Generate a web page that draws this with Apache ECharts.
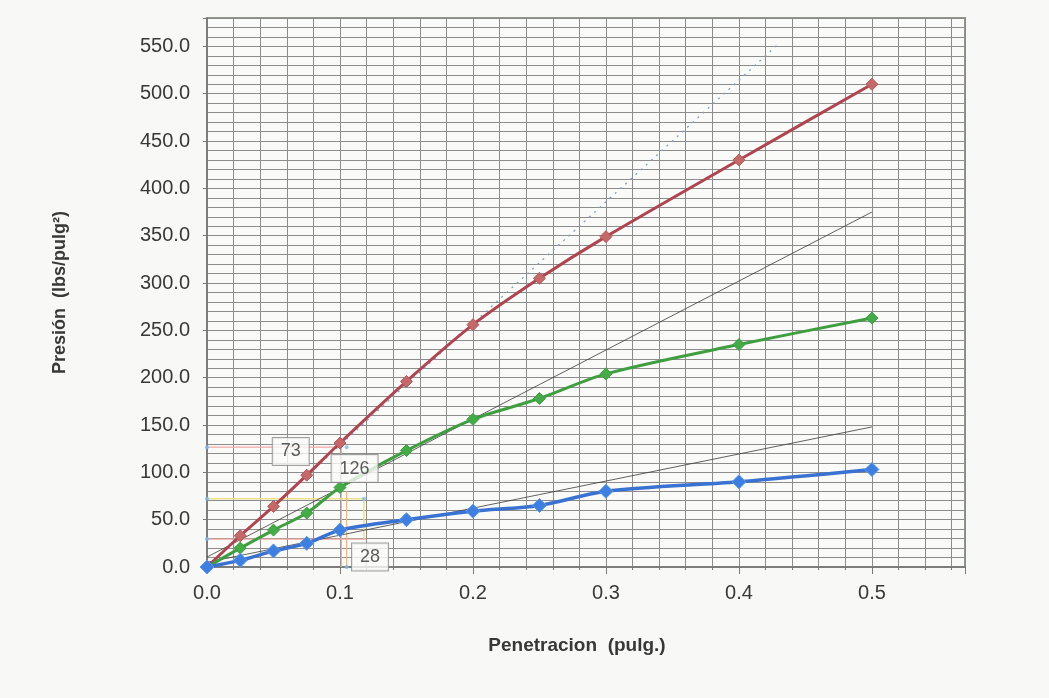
<!DOCTYPE html>
<html>
<head>
<meta charset="utf-8">
<script src="https://cdn.jsdelivr.net/npm/echarts@6/dist/echarts.min.js"></script>
<style>html,body{margin:0;padding:0;background:#f8f8f7;}#c{width:1049px;height:698px;}</style>
</head>
<body>
<div id="c"></div>
<script>
// Data
var penetration = [0, 0.025, 0.05, 0.075, 0.1, 0.15, 0.2, 0.25, 0.3, 0.4, 0.5];
var redValues   = [0, 33, 64, 97, 131, 196, 256, 305, 349, 430, 510];
var greenValues = [0, 20, 39, 57, 84, 123, 156, 178, 204, 235, 263];
var blueValues  = [0, 7, 17, 25, 39, 50, 59, 65, 80, 90, 103];
var redTangent   = [[0, 0], [0.43, 553]];
var greenTangent = [[0, 10.5], [0.5, 375]];
var blueTangent  = [[0, 5], [0.5, 148]];
var refLine126 = [[0, 126.6], [0.101, 126.6], [0.101, 0]];
var refLine73  = [[0, 72], [0.118, 72], [0.118, 29.5]];
var refLine28  = [[0, 29.5], [0.12, 29.5]];
var refVertical = [[0.105, 80], [0.105, 0]];
var refDots = [[0, 126.6], [0, 72], [0, 29.5], [0.105, 126.6], [0.118, 72], [0.105, 0]];
var boxLabels = [
  {text: '73', pos: [0.063, 122]},
  {text: '126', pos: [0.111, 104]},
  {text: '28', pos: [0.1226, 10.5]}
];
var xTickLabels = [0, 0.1, 0.2, 0.3, 0.4, 0.5];
var yTickLabels = [0, 50, 100, 150, 200, 250, 300, 350, 400, 450, 500, 550];

function pairs(ys) { return penetration.map(function (x, i) { return [x, ys[i]]; }); }
function near(v, list) { return list.some(function (t) { return Math.abs(t - v) < 1e-6; }); }

var chart = echarts.init(document.getElementById('c'));
var FONT = 'Liberation Sans, Arial, sans-serif';
var labelFont = {fontFamily: FONT, fontSize: 20, color: '#383838'};

chart.setOption({
  backgroundColor: '#f8f8f7',
  animation: false,
  grid: {left: 207, top: 18, right: 84, bottom: 131, show: true, backgroundColor: '#fafaf9', borderColor: '#8a988a', borderWidth: 2},
  xAxis: [{
    type: 'value', min: 0, max: 0.57, interval: 0.02,
    axisLine: {show: true, lineStyle: {color: '#777', width: 1.5}},
    axisTick: {show: true, length: 3, lineStyle: {color: '#777'}},
    splitLine: {show: true, lineStyle: {color: '#8c8c8c', width: 1}},
    axisLabel: Object.assign({margin: 16, formatter: function (v) { return near(v, xTickLabels) ? v.toFixed(1) : ''; }}, labelFont),
    name: 'Penetracion  (pulg.)', nameLocation: 'middle', nameGap: 69,
    nameTextStyle: {fontFamily: FONT, fontSize: 19, fontWeight: 'bold', color: '#383838', padding: [0, 18, 0, 0]}
  }, {
    type: 'value', min: 0, max: 0.57, interval: 0.1, position: 'bottom',
    axisLine: {show: false}, axisTick: {show: true, length: 7, lineStyle: {color: '#777'}},
    splitLine: {show: false}, axisLabel: {show: false}
  }],
  yAxis: [{
    type: 'value', min: 0, max: 580, interval: 10,
    axisLine: {show: true, lineStyle: {color: '#777', width: 1.5}},
    axisTick: {show: false},
    splitLine: {show: true, lineStyle: {color: '#8c8c8c', width: 1}},
    axisLabel: Object.assign({margin: 17, formatter: function (v) { return near(v, yTickLabels) ? v.toFixed(1) : ''; }}, labelFont),
    name: 'Presión  (lbs/pulg²)', nameLocation: 'middle', nameGap: 138,
    nameTextStyle: {fontFamily: FONT, fontSize: 18, fontWeight: 'bold', color: '#383838'}
  }, {
    type: 'value', min: 0, max: 580, interval: 50, position: 'left',
    axisLine: {show: false}, axisTick: {show: true, length: 4, lineStyle: {color: '#777'}},
    splitLine: {show: false}, axisLabel: {show: false}
  }],
  series: [
    {type: 'line', data: refLine126, symbol: 'none', lineStyle: {color: '#f2a6a6', width: 1.2}, z: 1},
    {type: 'line', data: refLine73, symbol: 'none', lineStyle: {color: '#efe08c', width: 1.5}, z: 1},
    {type: 'line', data: refLine28, symbol: 'none', lineStyle: {color: '#f0aaa0', width: 1.2}, z: 1},
    {type: 'line', data: refVertical, symbol: 'none', lineStyle: {color: '#e8b888', width: 1.2}, z: 1},
    {type: 'scatter', data: refDots, symbol: 'circle', symbolSize: 4, itemStyle: {color: '#7ab8e6'}, z: 2},
    {type: 'line', data: redTangent, symbol: 'none', lineStyle: {color: '#7f9fbf', width: 1.3, type: [2, 5]}, z: 3},
    {type: 'line', data: greenTangent, symbol: 'none', lineStyle: {color: '#3a3a3a', width: 0.8}, z: 3},
    {type: 'line', data: blueTangent, symbol: 'none', lineStyle: {color: '#3a3a3a', width: 0.8}, z: 3},
    {type: 'line', data: pairs(redValues), smooth: 0.3, symbol: 'diamond', symbolSize: 12,
      lineStyle: {color: '#ad4650', width: 3}, itemStyle: {color: '#c4696a', borderColor: '#b35a5c', borderWidth: 1}, z: 5},
    {type: 'line', data: pairs(greenValues), smooth: 0.3, symbol: 'diamond', symbolSize: 12,
      lineStyle: {color: '#3e9e40', width: 3}, itemStyle: {color: '#45aa48', borderColor: '#3e9e40', borderWidth: 1}, z: 5},
    {type: 'line', data: pairs(blueValues), smooth: 0.3, symbol: 'diamond', symbolSize: 14,
      lineStyle: {color: '#3a72d2', width: 3.5}, itemStyle: {color: '#3f7fe0', borderColor: '#5b9ae8', borderWidth: 1}, z: 5},
    {type: 'scatter', symbol: 'rect', symbolSize: 1, itemStyle: {color: 'rgba(0,0,0,0)'}, z: 10,
      data: boxLabels.map(function (b) { return {value: b.pos, name: b.text}; }),
      label: {show: true, position: 'inside', formatter: '{b}', fontFamily: FONT, fontSize: 18, color: '#333',
        backgroundColor: '#fbfbfa', borderColor: '#8a8a8a', borderWidth: 1, padding: [5, 8, 4, 8]}}
  ]
});
</script>
</body>
</html>
